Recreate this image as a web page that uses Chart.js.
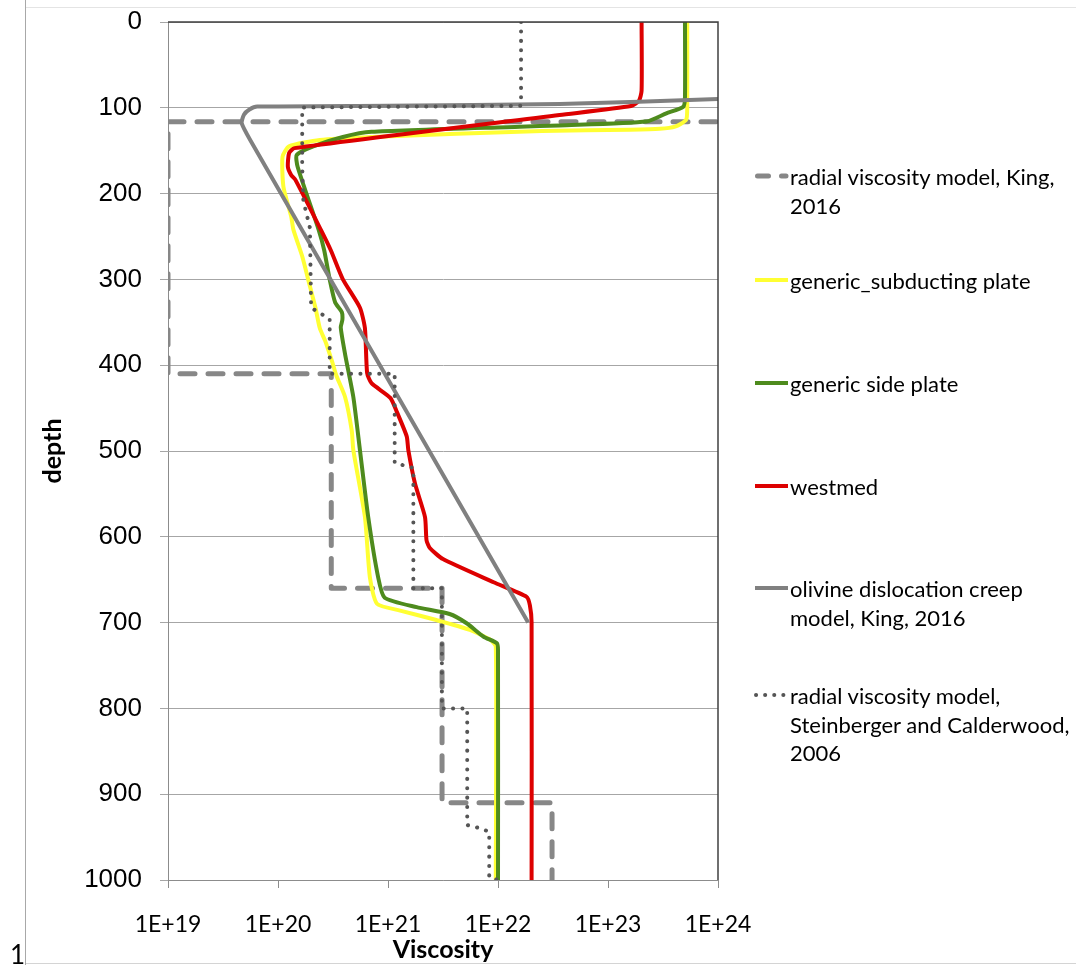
<!DOCTYPE html>
<html>
<head>
<meta charset="utf-8">
<script src="https://cdn.jsdelivr.net/npm/chart.js@4"></script>
<style>
  html, body { margin: 0; padding: 0; background: #fff; }
  #wrap { position: relative; width: 1076px; height: 965px; overflow: hidden; background: #fff; }
  #chart { position: absolute; left: 0; top: 0; }
  .sheet-top { position: absolute; left: 25px; right: 0; top: 7px; height: 1px; background: #e4e4e4; }
  .sheet-bottom { position: absolute; left: 25px; right: 0; top: 963px; height: 1px; background: #d4d4d4; }
  .sheet-left { position: absolute; left: 25px; top: 0; bottom: 0; width: 1px; background: #a8a8a8; }
  .row-num { position: absolute; left: 10px; top: 941px; font-family: Lato, sans-serif; font-size: 26px; line-height: 26px; color: #000; }
  .legend-item { position: absolute; left: 790px; font-family: Lato, sans-serif; font-size: 22px; line-height: 28.5px; color: #000; white-space: nowrap; }
  .legend-key { position: absolute; left: 752px; width: 38px; height: 10px; }
</style>
</head>
<body>
<div id="wrap">
  <canvas id="chart" width="1076" height="965"></canvas>
  <div class="sheet-top"></div>
  <div class="sheet-bottom"></div>
  <div class="sheet-left"></div>
  <div class="row-num">1</div>
  <div id="legend"></div>
</div>
<script>
// depth in km, viscosity in Pa s
const kingDepth = [116.3, 116.3, 410, 410, 660, 660, 910, 910, 1000];
const kingVisc = [1e25, 1e19, 1e19, 3.05e20, 3.05e20, 3.1e21, 3.1e21, 3.1e22, 3.1e22];

const subDepth = [0, 98.7, 114, 122, 124.5, 125.5, 127, 134, 137.5, 145, 157, 192, 227, 242, 273, 300, 333, 357, 372, 395, 412, 437, 476, 499, 577, 647, 678, 686, 697, 708.5, 720, 728, 1000];
const subVisc = [5.25e23, 5.25e23, 5.13e23, 4.07e23, 2.95e23, 1.58e23, 2.51e22, 7.08e20, 2.40e20, 1.26e20, 1.10e20, 1.12e20, 1.32e20, 1.38e20, 1.66e20, 1.88e20, 2.19e20, 2.40e20, 2.69e20, 3.09e20, 3.39e20, 4.07e20, 4.68e20, 4.84e20, 6.17e20, 6.84e20, 7.94e20, 1.29e21, 2.75e21, 5.56e21, 8.51e21, 9.55e21, 9.55e21];

const sideDepth = [0, 87, 98.7, 106.4, 116, 120.5, 122, 128, 134, 145, 155, 169, 242, 266, 300, 327, 338, 347, 356, 387, 437, 499, 577, 647, 671, 682, 690, 700.8, 716.5, 724, 732, 1000];
const sideVisc = [5.01e23, 5.01e23, 4.84e23, 3.39e23, 2.24e23, 3.63e22, 1.58e22, 7.08e20, 3.89e20, 2.09e20, 1.48e20, 1.51e20, 2.34e20, 2.63e20, 2.95e20, 3.31e20, 3.80e20, 3.85e20, 3.72e20, 4.07e20, 4.84e20, 5.56e20, 6.61e20, 8.13e20, 9.33e20, 1.82e21, 3.63e21, 5.19e21, 7.41e21, 9.77e21, 1.0e22, 1.0e22];

const westDepth = [0, 80, 92, 98, 108.4, 147, 153, 169, 178.5, 184, 242, 266, 300, 333, 357, 409, 421, 438, 454, 483, 499, 538, 577, 604, 613, 626, 653, 670, 680, 700, 1000];
const westVisc = [2.02e23, 2.02e23, 1.91e23, 1.62e23, 3.63e22, 1.41e20, 1.26e20, 1.23e20, 1.32e20, 1.44e20, 2.45e20, 3.02e20, 3.89e20, 5.56e20, 6.17e20, 6.46e20, 7.08e20, 1.05e21, 1.20e21, 1.48e21, 1.53e21, 1.76e21, 2.17e21, 2.24e21, 2.40e21, 3.16e21, 9.12e21, 1.82e22, 1.95e22, 2.02e22, 2.02e22];

const olivDepth = [87.8, 89.7, 95.6, 97.6, 98.6, 102, 108, 118, 138, 700];
const olivVisc = [3e24, 1e24, 3.63e22, 1e21, 6.46e19, 5.5e19, 4.9e19, 4.68e19, 5.62e19, 1.88e22];

const scDepth = [0, 97.7, 99.6, 169, 208, 240, 333, 341.5, 346, 410, 410, 514, 519.7, 660, 660, 800, 800, 936, 940, 944, 997, 1003];
const scVisc = [1.62e22, 1.62e22, 1.66e20, 1.66e20, 1.70e20, 1.95e20, 2.0e20, 2.57e20, 2.95e20, 2.95e20, 1.15e21, 1.15e21, 1.70e21, 1.70e21, 3.09e21, 3.09e21, 5.25e21, 5.25e21, 7.08e21, 8.32e21, 8.32e21, 1.20e22];

const xTickValues = [1e19, 1e20, 1e21, 1e22, 1e23, 1e24];
const xTickLabels = ['1E+19', '1E+20', '1E+21', '1E+22', '1E+23', '1E+24'];

const seriesNames = [
  ['radial viscosity model, King,', '2016'],
  ['generic_subducting plate'],
  ['generic side plate'],
  ['westmed'],
  ['olivine dislocation creep', 'model, King, 2016'],
  ['radial viscosity model,', 'Steinberger and Calderwood,', '2006']
];
const legendY = [176, 280, 383, 486, 588, 695];

function toPoints(depth, visc) {
  return depth.map((d, i) => ({ x: visc[i], y: d }));
}

const series = [
  { data: toPoints(kingDepth, kingVisc), color: '#878787', width: 5, dash: [15, 13], cap: 'round', tension: 0, order: 6 },
  { data: toPoints(subDepth, subVisc), color: '#ffff33', width: 4, dash: [], cap: 'butt', tension: 0.2, order: 5 },
  { data: toPoints(sideDepth, sideVisc), color: '#4e8b1d', width: 4, dash: [], cap: 'butt', tension: 0.2, order: 4 },
  { data: toPoints(westDepth, westVisc), color: '#dd0000', width: 4, dash: [], cap: 'butt', tension: 0.2, order: 3 },
  { data: toPoints(olivDepth, olivVisc), color: '#808080', width: 4, dash: [], cap: 'butt', tension: 0.2, order: 2 },
  { data: toPoints(scDepth, scVisc), color: '#555555', width: 4, dash: [0.1, 9.3], cap: 'round', tension: 0, order: 1 }
];

const frameBorder = {
  id: 'frameBorder',
  afterDraw(chart) {
    const { ctx, chartArea: a } = chart;
    ctx.save();
    ctx.strokeStyle = '#404040';
    ctx.lineWidth = 1.5;
    ctx.beginPath();
    ctx.moveTo(a.left, a.top);
    ctx.lineTo(a.right, a.top);
    ctx.lineTo(a.right, a.bottom);
    ctx.stroke();
    ctx.restore();
  }
};

new Chart(document.getElementById('chart'), {
  type: 'scatter',
  data: {
    datasets: series.map((s, i) => ({
      label: seriesNames[i].join(' '),
      data: s.data,
      showLine: true,
      borderColor: s.color,
      backgroundColor: s.color,
      borderWidth: s.width,
      borderDash: s.dash,
      borderCapStyle: s.cap,
      borderJoinStyle: 'round',
      tension: s.tension,
      pointRadius: 0,
      pointHoverRadius: 0,
      fill: false,
      order: s.order
    }))
  },
  options: {
    responsive: false,
    animation: false,
    devicePixelRatio: 1,
    layout: { padding: { left: 0, top: 22, right: 358, bottom: 0 } },
    plugins: {
      legend: { display: false },
      tooltip: { enabled: false }
    },
    scales: {
      x: {
        type: 'logarithmic',
        position: 'bottom',
        min: 1e19,
        max: 1e24,
        afterBuildTicks: (scale) => {
          scale.ticks = xTickValues.map((v) => ({ value: v }));
        },
        afterFit: (scale) => {
          scale.height = 85;
          scale.paddingLeft = 0;
          scale.paddingRight = 0;
        },
        ticks: {
          callback: (value, index) => xTickLabels[index],
          autoSkip: false,
          maxRotation: 0,
          padding: 23,
          color: '#000',
          font: { family: 'Lato', size: 23 }
        },
        grid: { drawOnChartArea: false, tickLength: 8, color: '#8c8c8c' },
        border: { color: '#8c8c8c' },
        title: {
          display: true,
          text: 'Viscosity',
          color: '#000',
          font: { family: 'Lato', size: 25, weight: 'bold', lineHeight: 1 },
          padding: { top: 0, bottom: 3 }
        }
      },
      y: {
        type: 'linear',
        reverse: true,
        min: 0,
        max: 1000,
        afterFit: (scale) => {
          scale.width = 168;
          scale.paddingTop = 0;
          scale.paddingBottom = 0;
        },
        ticks: {
          stepSize: 100,
          padding: 18,
          color: '#000',
          font: { family: 'Liberation Sans', size: 26 },
          callback: (value) => String(value)
        },
        grid: { color: '#a6a6a6', tickLength: 8 },
        border: { color: '#8c8c8c' },
        title: {
          display: true,
          text: 'depth',
          color: '#000',
          font: { family: 'Lato', size: 25, weight: 'bold', lineHeight: 1 },
          padding: { top: 40, bottom: 0 }
        }
      }
    }
  },
  plugins: [frameBorder]
});

// legend, Excel style on the right
const legend = document.getElementById('legend');
seriesNames.forEach((lines, i) => {
  const s = series[i];
  const y = legendY[i];
  const key = document.createElementNS('http://www.w3.org/2000/svg', 'svg');
  key.setAttribute('class', 'legend-key');
  key.setAttribute('width', '38');
  key.setAttribute('height', '10');
  key.style.top = (y - 5) + 'px';
  const line = document.createElementNS('http://www.w3.org/2000/svg', 'line');
  line.setAttribute('y1', '5');
  line.setAttribute('y2', '5');
  line.setAttribute('stroke', s.color);
  line.setAttribute('stroke-width', s.width);
  if (i === 0) {
    line.setAttribute('x1', '5.5');
    line.setAttribute('x2', '34');
    line.setAttribute('stroke-dasharray', '11 13');
    line.setAttribute('stroke-linecap', 'round');
  } else if (i === 5) {
    line.setAttribute('x1', '4');
    line.setAttribute('x2', '34');
    line.setAttribute('stroke-dasharray', '0.1 9');
    line.setAttribute('stroke-linecap', 'round');
  } else {
    line.setAttribute('x1', '3');
    line.setAttribute('x2', '36');
  }
  key.appendChild(line);
  legend.appendChild(key);

  const item = document.createElement('div');
  item.className = 'legend-item';
  item.style.top = (y - 13) + 'px';
  item.innerHTML = lines.join('<br>');
  legend.appendChild(item);
});
</script>
</body>
</html>
